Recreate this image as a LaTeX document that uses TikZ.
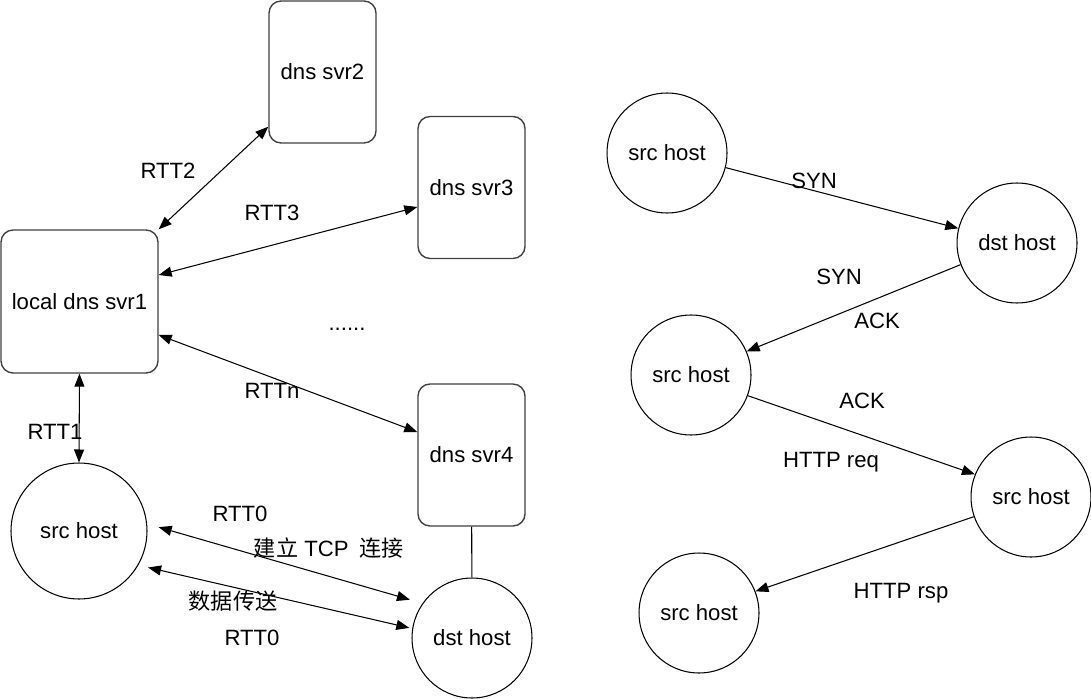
\documentclass[tikz,border=0pt]{standalone}
\usepackage{fontspec}
\setmainfont{Liberation Sans}
\newfontfamily\cjk{Noto Sans CJK SC}
\usetikzlibrary{arrows.meta}

\begin{document}
\begin{tikzpicture}[
  x=0.02cm, y=-0.02cm,
  every node/.style={font=\fontsize{12.6}{14}\selectfont},
  svr/.style={draw=black!75, line width=0.8pt, rounded corners=0.24cm, minimum width=2.14cm, minimum height=2.84cm, inner sep=0pt},
  host/.style={draw, circle, line width=0.6pt, minimum size=2.4cm, inner sep=0pt},
  arr/.style={-{Triangle[length=2.6mm,width=2mm]}, line width=0.6pt},
  darr/.style={{Triangle[length=2.6mm,width=2mm]}-{Triangle[length=2.6mm,width=2mm]}, line width=0.6pt}
]
  \useasboundingbox (0,0) rectangle (1091,699);
  % left: dns lookup
  \node[svr] (S2) at (322.5,72) {dns svr2};
  \node[svr] (S3) at (471.5,187.5) {dns svr3};
  \node[svr, minimum width=3.14cm, minimum height=2.86cm] (L) at (79.5,301.5) {local dns svr1};
  \node[svr] (S4) at (471.5,455) {dns svr4};
  \node[host, minimum size=2.72cm] (H) at (79,531) {src host};
  \node[host] (D) at (472,638) {dst host};
  \node (dots) at (347,329) {......};
  \draw[darr] (L.north east) -- ([yshift=0.34cm]S2.south west);
  \draw[darr] ([yshift=0.53cm]L.east) -- ([yshift=-0.39cm]S3.west);
  \draw[darr] ([yshift=-0.67cm]L.east) -- ([yshift=0.46cm]S4.west);
  \draw[darr] (L.south) -- (H.north);
  \draw[line width=0.6pt] (S4) -- (D);
  \draw[darr, shorten <=0.24cm, shorten >=0.26cm] (H.6) -- (D.145);
  \draw[darr, shorten <=0.2cm, shorten >=0.06cm] (H.-30) -- (D.171);
  \node (t2) at (168,171) {RTT2};
  \node (t3) at (272,213) {RTT3};
  \node (tn) at (272,391) {RTTn};
  \node (t1) at (55,432) {RTT1};
  \node (t0a) at (240,514) {RTT0};
  \node (tcp) at (329,548) {{\cjk 建立} TCP\hspace{0.5em}{\cjk 连接}};
  \node (data) at (233,601) {\cjk 数据传送};
  \node (t0b) at (252,638) {RTT0};
  % right: tcp handshake
  \node[host] (P1) at (667,153) {src host};
  \node[host] (P2) at (1017,243) {dst host};
  \node[host] (P3) at (691,375) {src host};
  \node[host] (P4) at (1031,497) {src host};
  \node[host] (P5) at (699,613) {src host};
  \draw[arr] (P1.-14) -- (P2.166);
  \draw[arr] (P2.201) -- (P3.23);
  \draw[arr] (P3.-20) -- (P4.158);
  \draw[arr] (P4.199) -- (P5.21);
  \node (syn1) at (814,181) {SYN};
  \node (syn2) at (839,277) {SYN};
  \node (ack1) at (877,321) {ACK};
  \node (ack2) at (862,401) {ACK};
  \node (req) at (831,462) {HTTP req};
  \node (rsp) at (901,593) {HTTP rsp};
\end{tikzpicture}
\end{document}
